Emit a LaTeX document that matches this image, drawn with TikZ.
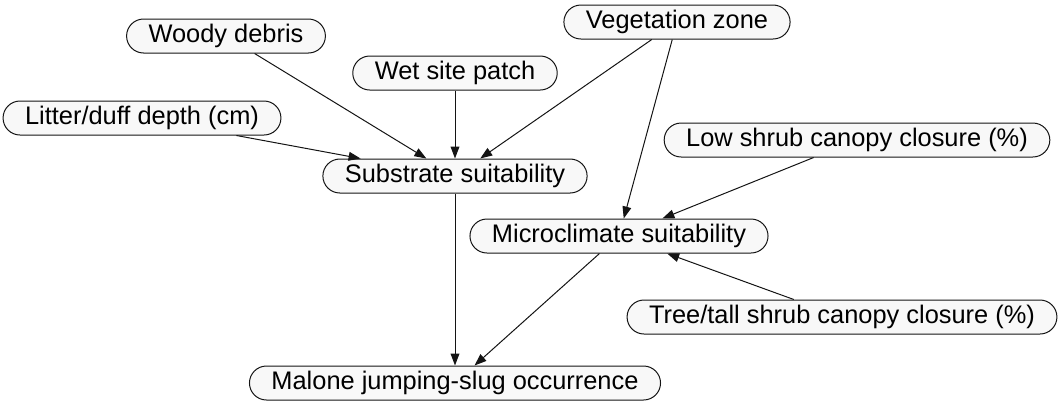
\documentclass[tikz,border=0pt]{standalone}
\usepackage{fontspec}
\setmainfont{Liberation Sans}
\usepackage{xcolor}
\usepackage{tikz}
\usetikzlibrary{arrows.meta}
\definecolor{boxFill}{RGB}{248,248,248}
\definecolor{lineGray}{RGB}{20,20,20}

\begin{document}
\begin{tikzpicture}[x=0.5pt, y=-0.5pt,
  var/.style={draw=lineGray, fill=boxFill, line width=0.5pt, rounded corners=8.5pt,
    inner xsep=11pt, inner ysep=0pt, minimum height=17pt,
    font=\fontsize{12.7}{15}\selectfont},
  link/.style={-{Triangle[length=6pt, width=4.4pt]}, line width=0.5pt, lineGray}]
\useasboundingbox (0,0) rectangle (1062,404);
\node[var] (woody) at (226,36) {Woody debris};
\node[var] (wet) at (455,73) {Wet site patch};
\node[var] (litter) at (142,118) {Litter/duff depth (cm)};
\node[var] (substrate) at (455,176) {Substrate suitability};
\node[var] (veg) at (677,22) {Vegetation zone};
\node[var] (lowshrub) at (857,140) {Low shrub canopy closure (\%)};
\node[var] (micro) at (619,236) {Microclimate suitability};
\node[var] (tallshrub) at (842,317) {Tree/tall shrub canopy closure (\%)};
\node[var] (slug) at (455,383) {Malone jumping-slug occurrence};
\draw[link] (woody) -- (substrate);
\draw[link] (wet) -- (substrate);
\draw[link] (litter) -- (substrate);
\draw[link] (veg) -- (substrate);
\draw[link] (veg) -- (micro);
\draw[link] (lowshrub) -- (micro);
\draw[link] (tallshrub) -- (micro);
\draw[link] (substrate) -- (slug);
\draw[link] (micro) -- (slug);
\end{tikzpicture}
\end{document}
